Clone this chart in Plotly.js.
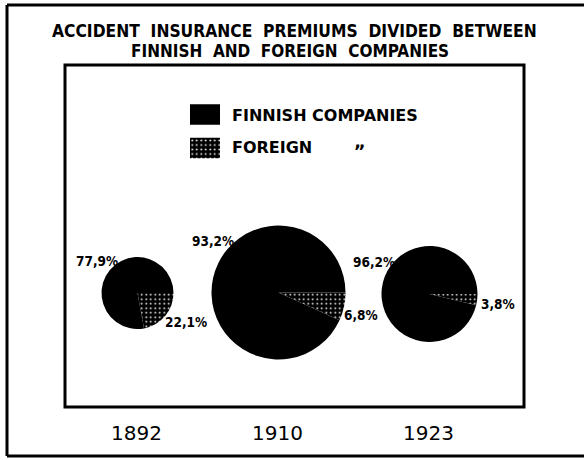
<!DOCTYPE html>
<html>
<head>
<meta charset="utf-8">
<script src="https://cdn.plot.ly/plotly-3.0.1.min.js"></script>
<style>
  html, body { margin: 0; padding: 0; background: #fff; }
  #chart { width: 584px; height: 460px; }
</style>
</head>
<body>
<div id="chart"></div>
<script>
// ---- data ----
const years = ['1892', '1910', '1923'];
const companyTypes = ['FOREIGN', 'FINNISH COMPANIES'];
const finnishShare = [77.9, 93.2, 96.2];
const foreignShare = [22.1, 6.8, 3.8];
const titleLines = ['ACCIDENT  INSURANCE  PREMIUMS  DIVIDED  BETWEEN', 'FINNISH  AND  FOREIGN  COMPANIES'];
const legendLabels = ['FINNISH COMPANIES', 'FOREIGN'];
const legendSwatch = [1, 1];

// ---- layout / style (pixels) ----
const W = 584, H = 460;
const pieCenters = [[137.5, 293], [278.5, 292.5], [429.5, 294]];
const pieRadii = [36, 67, 48];
const finnishLabelOffset = [[-41, -32], [-66, -52], [-56, -32]];
const foreignLabelOffset = [[48, 29], [82, 22], [68, 10]];
const px = x => x / W;
const py = y => 1 - y / H;
const fmt = v => v.toFixed(1).replace('.', ',') + '%';

const pctFont = {family: 'DejaVu Sans Condensed, DejaVu Sans, sans-serif', size: 13.5, color: '#000', weight: 'bold'};
const titleFont = {family: 'DejaVu Sans Condensed, DejaVu Sans, sans-serif', size: 17.3, color: '#000', weight: 'bold'};
const title2Font = {family: 'DejaVu Sans Condensed, DejaVu Sans, sans-serif', size: 17, color: '#000', weight: 'bold'};
const legendFont = {family: 'DejaVu Sans, sans-serif', size: 16, color: '#000', weight: 'bold'};
const yearFont = {family: 'DejaVu Sans, sans-serif', size: 20, color: '#000'};

const dotPattern = {fgcolor: '#ffffff', bgcolor: '#000000', size: 4.5, solidity: 0.13};

const traces = years.map((yr, i) => {
  const [cx, cy] = pieCenters[i];
  const r = pieRadii[i];
  return {
    type: 'pie',
    name: yr,
    labels: companyTypes,
    values: [foreignShare[i], finnishShare[i]],
    sort: false,
    direction: 'clockwise',
    rotation: 90,
    domain: {x: [px(cx - r), px(cx + r)], y: [py(cy + r), py(cy - r)]},
    marker: {colors: ['#000000', '#000000'], line: {width: 0},
             pattern: Object.assign({shape: ['.', '']}, dotPattern)},
    textinfo: 'none',
    hoverinfo: 'label+percent',
    showlegend: false
  };
});

// legend swatches (drawn as a tiny hidden bar chart so the pattern matches)
traces.push({
  type: 'bar',
  orientation: 'h',
  y: legendLabels,
  x: legendSwatch,
  xaxis: 'x',
  yaxis: 'y',
  marker: {color: '#000000', line: {width: 0},
           pattern: Object.assign({shape: ['', '.']}, dotPattern)},
  hoverinfo: 'skip',
  showlegend: false
});

const annotations = [];
titleLines.forEach((t, i) => {
  annotations.push({
    xref: 'paper', yref: 'paper', x: px(i === 0 ? 294 : 290), y: py(i === 0 ? 31 : 51),
    xanchor: 'center', yanchor: 'middle', showarrow: false, text: t, font: i === 0 ? titleFont : title2Font
  });
});
years.forEach((yr, i) => {
  const [cx, cy] = pieCenters[i];
  annotations.push({
    xref: 'paper', yref: 'paper', x: px(cx - 1), y: py(433),
    xanchor: 'center', yanchor: 'middle', showarrow: false, text: yr, font: yearFont
  });
  annotations.push({
    xref: 'paper', yref: 'paper', x: px(cx + finnishLabelOffset[i][0]), y: py(cy + finnishLabelOffset[i][1]),
    xanchor: 'center', yanchor: 'middle', showarrow: false, text: fmt(finnishShare[i]), font: pctFont
  });
  annotations.push({
    xref: 'paper', yref: 'paper', x: px(cx + foreignLabelOffset[i][0]), y: py(cy + foreignLabelOffset[i][1]),
    xanchor: 'center', yanchor: 'middle', showarrow: false, text: fmt(foreignShare[i]), font: pctFont
  });
});
legendLabels.forEach((t, i) => {
  annotations.push({
    xref: 'paper', yref: 'paper', x: px(230), y: py(i === 0 ? 115 : 148),
    xanchor: 'left', yanchor: 'middle', showarrow: false, text: t, font: legendFont
  });
});
annotations.push({
  xref: 'paper', yref: 'paper', x: px(360), y: py(141),
  xanchor: 'center', yanchor: 'middle', showarrow: false, text: '\u201E', font: {family: 'DejaVu Sans, sans-serif', size: 18, color: '#000', weight: 'bold'}
});

const lineStyle = {color: '#000', width: 3};
const shapes = [
  // inner frame
  {type: 'rect', xref: 'paper', yref: 'paper', x0: px(65), x1: px(524), y0: py(407), y1: py(65), line: lineStyle},
  // outer frame
  {type: 'line', xref: 'paper', yref: 'paper', x0: px(7), x1: px(7), y0: py(456), y1: py(5), line: lineStyle},
  {type: 'line', xref: 'paper', yref: 'paper', x0: px(7), x1: 1, y0: py(5), y1: py(5), line: lineStyle},
  {type: 'line', xref: 'paper', yref: 'paper', x0: px(7), x1: 1, y0: py(456), y1: py(456), line: lineStyle}
];

const layout = {
  width: W, height: H,
  margin: {l: 0, r: 0, t: 0, b: 0},
  paper_bgcolor: '#ffffff',
  plot_bgcolor: 'rgba(0,0,0,0)',
  showlegend: false,
  bargap: 0.39,
  xaxis: {domain: [px(190), px(220)], range: [0, 1], visible: false, fixedrange: true},
  yaxis: {domain: [py(164.75), py(97.75)], type: 'category', autorange: 'reversed', visible: false, fixedrange: true},
  annotations: annotations,
  shapes: shapes
};

Plotly.newPlot('chart', traces, layout, {displayModeBar: false, staticPlot: true});
</script>
</body>
</html>
